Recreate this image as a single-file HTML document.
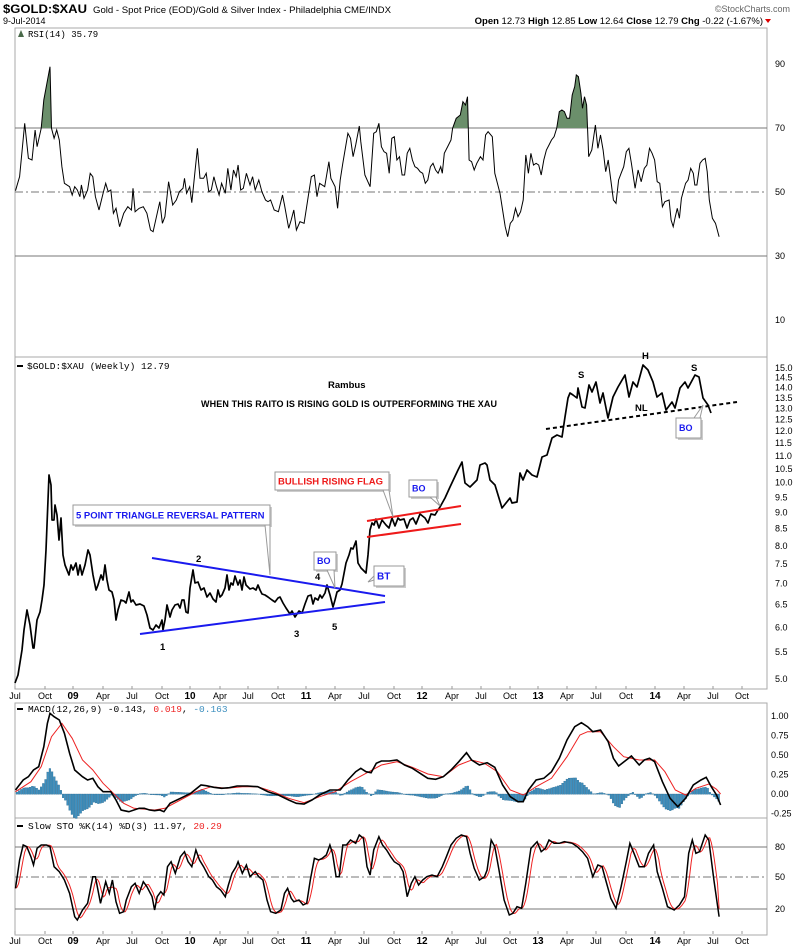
<!DOCTYPE html>
<html><head><meta charset="utf-8"><style>
html,body{margin:0;padding:0;background:#fff;}
svg{display:block;font-family:"Liberation Sans",sans-serif;}
</style></head><body>
<svg id="s" width="800" height="950" viewBox="0 0 800 950" xmlns="http://www.w3.org/2000/svg">
<rect width="800" height="950" fill="#fff"/>
<text x="3" y="13" font-size="12" font-weight="bold" textLength="84" lengthAdjust="spacingAndGlyphs">$GOLD:$XAU</text>
<text x="93" y="13" font-size="9.5" textLength="298" lengthAdjust="spacingAndGlyphs">Gold - Spot Price (EOD)/Gold &amp; Silver Index - Philadelphia CME/INDX</text>
<text x="3" y="24" font-size="9">9-Jul-2014</text>
<text x="790" y="12" font-size="9" fill="#666" text-anchor="end">©StockCharts.com</text>
<text x="763" y="24" font-size="9.5" text-anchor="end"><tspan font-weight="bold">Open</tspan> 12.73 <tspan font-weight="bold">High</tspan> 12.85 <tspan font-weight="bold">Low</tspan> 12.64 <tspan font-weight="bold">Close</tspan> 12.79 <tspan font-weight="bold">Chg</tspan> -0.22 (-1.67%)</text>
<path d="M765 19 l6 0 l-3 4z" fill="#d00"/>
<g id="root"></g>
</svg>
<script>
var NS="http://www.w3.org/2000/svg",root=document.getElementById('root');
function el(t,a,p){var e=document.createElementNS(NS,t);for(var k in a)e.setAttribute(k,a[k]);(p||root).appendChild(e);return e;}
function txt(x,y,s,a){a=a||{};a.x=x;a.y=y;var e=el('text',a);e.textContent=s;return e;}
var L=15,R=767;
[[28,357],[357,689],[703,818],[818,935]].forEach(function(p){el('rect',{x:L,y:p[0],width:R-L,height:p[1]-p[0],fill:'none',stroke:'#aaa','stroke-width':1});});
function ry(v){return 352-3.2*v;}
[70,30].forEach(function(v){el('line',{x1:L,x2:R,y1:ry(v),y2:ry(v),stroke:'#777','stroke-width':1});});
el('line',{x1:L,x2:R,y1:ry(50),y2:ry(50),stroke:'#777','stroke-width':1,'stroke-dasharray':'8,3,2,3'});
[90,70,50,30,10].forEach(function(v){txt(775,ry(v)+3,v,{'font-size':9});});
txt(28,37,'RSI(14) 35.79',{'font-size':9,'font-family':'Liberation Mono,monospace'});
el('path',{d:'M18 37 l3 -7 l3 7z',fill:'#4a6a4a'});
var rsi=[30,512,38,470,48,310,55,415,62,420,68,330,72,380,80,325,85,240,97,140,100,325,105,355,110,330,115,360,120,440,125,490,135,500,140,525,145,500,150,510,155,530,158,495,163,535,170,510,175,460,180,470,185,530,192,570,200,520,205,490,210,515,215,510,220,580,225,565,232,620,240,580,248,560,255,570,258,505,262,575,270,565,278,560,285,580,292,630,297,635,305,580,310,545,315,610,320,590,327,485,335,555,342,540,348,515,355,505,358,475,362,520,368,500,372,548,378,460,383,385,388,475,395,475,400,460,405,515,410,510,415,470,420,500,425,525,430,490,437,520,442,445,448,510,453,450,458,470,462,435,467,510,472,505,478,460,485,495,490,470,495,510,502,480,508,515,515,540,520,545,525,540,532,570,540,575,548,525,552,555,560,625,565,600,570,570,575,630,582,605,590,610,598,530,604,470,610,465,615,530,620,490,630,500,638,425,642,475,650,500,655,565,660,480,665,430,675,340,680,355,685,410,690,375,697,318,700,365,708,465,718,500,725,340,730,335,735,310,740,380,745,395,750,400,755,460,760,355,765,350,770,420,775,410,780,465,785,465,790,400,795,385,800,420,805,440,810,445,815,455,820,460,825,490,830,480,835,440,840,430,845,450,850,460,855,440,858,460,862,400,870,375,875,360,878,325,885,295,893,285,898,245,903,255,907,230,910,420,915,425,920,450,925,430,932,410,937,420,942,345,947,335,955,350,960,460,965,490,970,520,975,570,980,620,985,650,990,610,995,600,1000,565,1005,590,1010,575,1015,540,1020,405,1025,460,1030,400,1035,435,1040,430,1045,435,1050,465,1055,420,1060,390,1065,375,1070,360,1075,350,1080,325,1085,275,1090,270,1095,275,1100,295,1105,295,1110,225,1115,200,1118,165,1122,170,1127,220,1130,265,1134,230,1138,255,1142,410,1148,390,1155,315,1160,385,1165,345,1170,390,1175,455,1180,420,1185,480,1190,540,1195,550,1200,480,1205,460,1210,440,1215,395,1220,385,1225,430,1232,505,1238,450,1244,485,1250,445,1255,435,1260,385,1265,400,1270,420,1275,485,1280,490,1285,560,1290,545,1298,540,1302,600,1306,620,1310,590,1314,565,1318,595,1322,535,1330,490,1335,480,1340,445,1345,460,1348,495,1352,495,1358,430,1363,420,1368,415,1372,455,1376,540,1382,595,1388,610,1395,650];
function conv(a,sx,sy,oy){var o=[];for(var i=0;i<a.length;i+=2)o.push([a[i]/sx,oy+a[i+1]/sy]);return o;}
function pts(o){return o.map(function(p){return p[0].toFixed(1)+','+p[1].toFixed(1);}).join(' ');}
var rp=conv(rsi,1.94,3,20);
var cp=el('clipPath',{id:'c70'});el('rect',{x:0,y:0,width:800,height:ry(70)},cp);
var poly=rp.concat([[rp[rp.length-1][0],400],[rp[0][0],400]]);
el('polygon',{points:pts(poly),fill:'#6b8f6b','clip-path':'url(#c70)'});
el('polyline',{points:pts(rp),fill:'none',stroke:'#000','stroke-width':1});
function py(v){return 368+283*Math.log(15/v);}
for(var v=5;v<=15.01;v+=0.5){txt(775,py(v)+3,v.toFixed(1),{'font-size':9});}
txt(27,369,'$GOLD:$XAU (Weekly) 12.79',{'font-size':9.5,'font-family':'Liberation Mono,monospace'});
el('line',{x1:17,x2:23,y1:366,y2:366,stroke:'#000','stroke-width':2});
var price=[15,683,18,675,22,650,24,630,27,610,30,625,33,648,34,648,37,620,40,612,42,600,44,585,46,550,48,500,49,475,51,485,52,520,54,520,55,505,57,515,59,540,61,518,63,555,65,565,69,575,71,565,73,570,76,563,78,575,80,565,82,575,85,565,88,550,90,555,93,575,96,590,98,585,101,575,103,580,105,565,107,580,109,590,112,592,114,600,116,620,118,610,121,600,124,601,126,603,129,592,131,602,133,600,136,605,140,604,144,606,147,615,150,628,153,630,156,625,159,628,162,620,163,630,165,620,167,605,170,617,172,610,175,605,178,604,180,608,182,600,184,600,186,612,188,613,190,588,193,570,195,583,198,582,201,590,204,588,207,597,210,593,213,599,216,602,218,590,220,597,222,595,225,588,227,575,229,590,231,583,233,585,235,576,238,585,240,580,242,590,244,577,246,585,250,589,253,588,256,590,258,585,260,590,262,594,265,595,268,597,272,600,275,602,278,598,280,597,283,603,286,608,290,614,292,611,295,617,297,614,299,611,302,613,305,604,308,596,311,595,313,604,315,598,318,600,320,595,322,598,325,593,327,585,330,595,333,607,335,600,337,592,340,590,342,584,346,563,349,555,351,548,353,549,356,541,358,563,361,568,364,571,366,573,368,555,370,530,372,523,374,525,376,519,379,528,382,520,386,525,389,528,392,518,395,526,398,518,400,520,404,519,407,528,410,520,413,518,416,524,420,514,425,518,428,523,431,514,435,515,438,510,440,507,445,498,450,487,458,470,462,462,465,483,470,487,477,480,480,465,485,463,487,465,490,480,495,485,502,508,510,498,512,503,517,502,520,473,523,480,527,470,532,475,537,477,542,457,547,455,552,438,557,435,562,437,565,417,568,398,570,393,573,395,577,398,578,388,582,407,585,408,589,385,592,392,596,382,600,403,603,393,608,418,613,397,618,387,625,375,629,397,633,382,637,387,643,365,648,370,653,382,657,397,662,393,666,410,672,402,675,408,680,388,685,382,688,388,695,375,699,377,703,398,708,405,711,413];
el('polyline',{points:pts(conv(price,1,1,0)),fill:'none',stroke:'#000','stroke-width':1.7,'stroke-linejoin':'round'});
el('line',{x1:152,y1:558,x2:385,y2:596,stroke:'#1a1aee','stroke-width':2});
el('line',{x1:140,y1:634,x2:385,y2:602,stroke:'#1a1aee','stroke-width':2});
el('line',{x1:367,y1:521,x2:461,y2:506,stroke:'#ee1a1a','stroke-width':2});
el('line',{x1:367,y1:537,x2:461,y2:524,stroke:'#ee1a1a','stroke-width':2});
el('line',{x1:546,y1:429,x2:737,y2:402,stroke:'#000','stroke-width':2,'stroke-dasharray':'4,3'});
function box(x,y,w,h,s,col,sz,px,py2,bx1,bx2,by){
 el('rect',{x:x+2,y:y+2,width:w,height:h,fill:'#ccc'});
 el('rect',{x:x,y:y,width:w,height:h,fill:'#fff',stroke:'#999','stroke-width':1});
 if(px!==undefined)el('polygon',{points:bx1+','+by+' '+px+','+py2+' '+bx2+','+by,fill:'#fff',stroke:'#999','stroke-width':1});
 txt(x+3,y+h/2+sz*0.36,s,{'font-size':sz,'font-weight':'bold',fill:col});
}
box(73,505,197,20,'5 POINT TRIANGLE REVERSAL PATTERN','#1a1aee',9.5,270,575,265,270,525);
box(275,472,114,18,'BULLISH RISING FLAG','#ee1a1a',9.5,393,517,383,389,490);
box(314,552,22,18,'BO','#1a1aee',9,335,588,327,334,570);
box(409,480,28,17,'BO','#1a1aee',9,440,506,430,436,497);
box(374,566,30,20,'BT','#1a1aee',10);
el('polygon',{points:'374,576 368,582 374,580',fill:'#fff',stroke:'#999'});
box(676,418,25,20,'BO','#1a1aee',9,703,405,694,700,418);
txt(328,388,'Rambus',{'font-size':9.5,'font-weight':'bold'});
txt(201,407,'WHEN THIS RAITO IS RISING GOLD IS OUTPERFORMING THE XAU',{'font-size':9,'font-weight':'bold','textLength':296});
[[160,650,'1'],[196,562,'2'],[294,637,'3'],[315,580,'4'],[332,630,'5'],[578,378,'S'],[642,359,'H'],[691,371,'S'],[635,411,'NL']].forEach(function(a){txt(a[0],a[1],a[2],{'font-size':9.5,'font-weight':'bold'});});
var months=[[15,'Jul'],[45,'Oct'],[73,'09',1],[103,'Apr'],[132,'Jul'],[162,'Oct'],[190,'10',1],[220,'Apr'],[248,'Jul'],[278,'Oct'],[306,'11',1],[335,'Apr'],[364,'Jul'],[394,'Oct'],[422,'12',1],[452,'Apr'],[481,'Jul'],[510,'Oct'],[538,'13',1],[567,'Apr'],[596,'Jul'],[626,'Oct'],[655,'14',1],[684,'Apr'],[713,'Jul'],[742,'Oct']];
[699,944].forEach(function(y){months.forEach(function(m){txt(m[0],y,m[1],{'font-size':m[2]?10:9,'font-weight':m[2]?'bold':'normal','text-anchor':'middle'});el('line',{x1:m[0],x2:m[0],y1:y-10,y2:y-13,stroke:'#999'});});});
function interp(a,x){for(var i=0;i<a.length-2;i+=2){if(x>=a[i]&&x<=a[i+2]){var t=(x-a[i])/(a[i+2]-a[i]);return a[i+1]+t*(a[i+3]-a[i+1]);}}return x<a[0]?a[1]:a[a.length-1];}
var mb=[30,330,45,300,55,290,65,270,75,260,85,200,92,130,97,100,105,110,115,120,125,160,135,220,145,270,160,290,170,300,180,295,190,320,200,335,215,335,225,360,235,390,250,395,270,385,280,385,290,390,300,392,310,390,318,395,330,370,350,355,370,340,390,315,400,317,415,322,430,325,445,323,460,318,480,318,500,320,520,335,540,345,560,360,575,370,590,372,605,360,620,345,640,330,660,330,675,300,690,275,700,265,710,275,720,278,730,250,740,243,755,243,770,240,785,255,800,265,815,280,830,295,845,298,860,290,875,270,890,245,905,218,915,240,930,255,945,248,960,262,975,315,990,350,1005,365,1015,365,1025,330,1040,300,1055,295,1070,275,1085,235,1100,180,1115,140,1128,128,1140,140,1150,155,1165,150,1180,185,1190,235,1200,258,1215,240,1225,228,1240,255,1250,240,1260,235,1270,245,1285,305,1300,355,1315,380,1330,355,1345,315,1360,300,1370,292,1380,320,1390,345,1398,375];
var mr=[30,335,60,305,80,260,100,170,120,130,140,175,160,240,180,270,200,310,220,340,240,370,260,385,300,390,320,385,350,360,380,335,410,320,440,325,470,320,500,320,530,335,560,355,590,368,620,350,650,335,680,305,710,280,740,255,770,245,800,262,830,282,860,290,890,255,915,240,940,250,965,275,990,330,1015,345,1040,320,1070,295,1100,230,1125,165,1140,155,1165,155,1190,200,1210,230,1240,240,1270,240,1290,275,1310,330,1330,345,1350,325,1375,312,1390,328,1398,342];
var zy=794;
for(var xp=16;xp<=720;xp+=2.2){var xz=xp*1.94;var d=(interp(mr,xz)-interp(mb,xz))/3*0.95;var y0=zy,y1=zy-d;el('rect',{x:xp,y:Math.min(y0,y1),width:1.8,height:Math.abs(d)+0.3,fill:'#3d8fbf',stroke:'#1f5f85','stroke-width':0.3});}
el('polyline',{points:pts(conv(mr,1.94,3,680)),fill:'none',stroke:'#e22','stroke-width':1});
el('polyline',{points:pts(conv(mb,1.94,3,680)),fill:'none',stroke:'#000','stroke-width':1.6});
[[1,'1.00'],[.75,'0.75'],[.5,'0.50'],[.25,'0.25'],[0,'0.00'],[-.25,'-0.25']].forEach(function(a){txt(771,zy-78*a[0]+3,a[1],{'font-size':9});});
var t=txt(28,712,'',{'font-size':9.5,'font-family':'Liberation Mono,monospace'});
t.innerHTML='MACD(12,26,9) -0.143, <tspan fill="#e22">0.019</tspan>, <tspan fill="#3d8fbf">-0.163</tspan>';
el('line',{x1:17,x2:23,y1:709,y2:709,stroke:'#000','stroke-width':2});
[847,909].forEach(function(y){el('line',{x1:L,x2:R,y1:y,y2:y,stroke:'#777'});});
el('line',{x1:L,x2:R,y1:877,y2:877,stroke:'#777','stroke-dasharray':'8,3,2,3'});
txt(775,850,'80',{'font-size':9});txt(775,880,'50',{'font-size':9});txt(775,912,'20',{'font-size':9});
var t2=txt(28,829,'',{'font-size':9.5,'font-family':'Liberation Mono,monospace'});
t2.innerHTML='Slow STO %K(14) %D(3) 11.97, <tspan fill="#e22">20.29</tspan>';
el('line',{x1:17,x2:23,y1:826,y2:826,stroke:'#000','stroke-width':2});
var sk=[30,625,38,540,45,495,52,500,60,530,65,555,72,505,80,495,90,495,97,500,105,560,115,575,125,600,135,640,145,710,150,720,160,690,170,670,180,590,185,590,195,670,205,605,212,640,218,600,225,665,232,700,240,695,245,660,255,620,262,610,270,640,278,605,285,620,295,650,300,690,305,650,312,635,318,645,325,560,332,545,340,580,350,530,358,515,365,545,372,560,380,510,387,540,395,560,405,590,412,600,420,620,428,630,437,650,443,615,450,580,458,560,462,545,470,580,478,555,485,590,495,575,502,590,510,600,518,660,525,695,535,700,545,690,552,640,558,625,565,655,570,665,580,660,588,675,595,670,602,600,610,535,618,540,625,535,633,525,640,495,645,520,652,590,658,590,665,495,672,495,680,480,690,490,697,465,705,475,712,560,718,585,725,510,735,470,742,495,750,510,758,530,765,545,775,555,782,575,790,650,798,610,805,590,812,615,820,600,828,590,838,585,848,590,858,560,866,530,875,495,885,475,895,465,905,470,912,520,920,565,930,600,940,590,945,570,953,480,960,500,968,570,978,660,988,705,995,700,1003,680,1012,685,1020,610,1030,505,1042,485,1050,515,1058,505,1065,480,1075,490,1085,490,1095,485,1110,490,1120,500,1130,515,1140,535,1150,590,1160,555,1168,560,1175,600,1185,655,1195,685,1205,620,1215,545,1222,490,1230,520,1240,560,1250,560,1258,520,1268,495,1275,575,1285,625,1295,680,1308,690,1318,675,1328,650,1336,520,1343,480,1350,520,1357,515,1368,465,1375,480,1385,600,1395,710];
var sd=[];for(var x=30;x<=1395;x+=3){sd.push(x,(interp(sk,x-2)+interp(sk,x-6)+interp(sk,x-10))/3);}
sd[sd.length-1]=686;
el('polyline',{points:pts(conv(sd,1.94,3,680)),fill:'none',stroke:'#e22','stroke-width':1});
el('polyline',{points:pts(conv(sk,1.94,3,680)),fill:'none',stroke:'#000','stroke-width':1.5});
</script>
</body></html>
